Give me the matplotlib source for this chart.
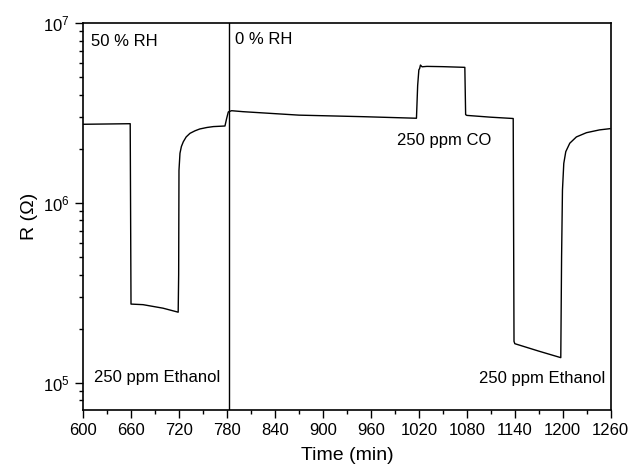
import matplotlib
matplotlib.use('Agg')
import matplotlib.pyplot as plt
from matplotlib.ticker import MultipleLocator, LogLocator

plt.rcParams['font.family'] = ['Liberation Sans', 'DejaVu Sans']
plt.rcParams['mathtext.fontset'] = 'custom'
plt.rcParams['mathtext.rm'] = 'Liberation Sans'
plt.rcParams['mathtext.it'] = 'Liberation Sans:italic'

# time (min) and resistance (ohm)
time = [600, 630, 659, 660, 675, 700, 719, 719.6, 720, 721.25, 723, 725.4,
        729, 733.75, 740, 746, 755, 763, 777.5, 779.6, 781.7, 785.8, 800,
        870, 950, 1017, 1018.5, 1020, 1021, 1022, 1024, 1030, 1050, 1077.5,
        1078.5, 1080, 1110, 1138, 1139, 1140, 1170, 1197.5, 1198.5, 1199.6,
        1201.25, 1203.75, 1208.75, 1217, 1229.6, 1246, 1259]
resist = [2.74e6, 2.75e6, 2.76e6, 2.74e5, 2.72e5, 2.60e5, 2.47e5, 4.0e5,
          1.52e6, 1.89e6, 2.06e6, 2.19e6, 2.33e6, 2.44e6, 2.52e6, 2.58e6,
          2.63e6, 2.66e6, 2.68e6, 2.95e6, 3.21e6, 3.26e6, 3.22e6, 3.08e6,
          3.02e6, 2.96e6, 4.5e6, 5.5e6, 5.6e6, 5.85e6, 5.72e6, 5.75e6,
          5.73e6, 5.68e6, 3.1e6, 3.07e6, 3.0e6, 2.95e6, 1.7e5, 1.65e5,
          1.5e5, 1.38e5, 5.0e5, 1.18e6, 1.66e6, 1.93e6, 2.15e6, 2.33e6,
          2.46e6, 2.55e6, 2.59e6]

switch_time = 783

labels = ['50 % RH', '0 % RH', '250 ppm CO', '250 ppm Ethanol', '250 ppm Ethanol']
label_x = [609.5, 790, 992.5, 613.5, 1253]
label_y = [7.87e6, 8.1e6, 2.24e6, 1.07e5, 1.05e5]
label_ha = ['left', 'left', 'left', 'left', 'right']


def main():
    fig = plt.figure(figsize=(6.29, 4.73), dpi=100)
    ax = fig.add_axes([0.132, 0.133, 0.839, 0.818])

    ax.plot(time, resist, color='black', lw=1.0)
    ax.axvline(switch_time, color='black', lw=1.0)

    for txt, x, y, ha in zip(labels, label_x, label_y, label_ha):
        ax.text(x, y, txt, ha=ha, va='center', fontsize=12)

    ax.set_yscale('log')
    ax.set_xlim(600, 1260)
    ax.set_ylim(7.05e4, 1e7)
    ax.xaxis.set_major_locator(MultipleLocator(60))
    ax.xaxis.set_minor_locator(MultipleLocator(30))
    ax.yaxis.set_major_locator(LogLocator(base=10, numticks=10))
    ax.yaxis.set_minor_locator(LogLocator(base=10, subs=range(2, 10), numticks=10))

    ax.tick_params(which='major', direction='out', length=6, width=1, labelsize=12)
    ax.tick_params(which='minor', direction='out', length=3, width=1)
    for sp in ax.spines.values():
        sp.set_linewidth(1.2)

    ax.set_xlabel('Time (min)', fontsize=14, labelpad=6)
    ax.set_ylabel('R (\u03a9)', fontsize=14, labelpad=4)

    fig.savefig('out.png', dpi=100)


if __name__ == '__main__':
    main()
